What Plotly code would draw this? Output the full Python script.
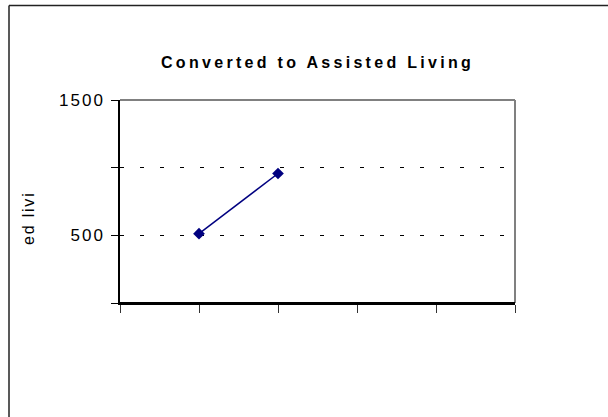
import plotly.graph_objects as go

# ---- data ----
chart_title = "Converted to Assisted Living"
y_axis_title = "ed livi"
category_positions = [1, 2]
values = [512, 957]
x_tick_positions = [0, 1, 2, 3, 4, 5]
y_tick_values = [0, 500, 1000, 1500]
y_tick_labels = ["", "500", "", "1500"]

W, H = 608, 417
L, R, T, B = 120, 515, 100, 303  # plot area in pixels


def px_x(px):
    return (px - L) / (R - L)


def px_y(py):
    return (B - py) / (B - T)


FONT = "Liberation Sans, Arial, sans-serif"

fig = go.Figure()
fig.add_trace(go.Scatter(
    x=category_positions, y=values, mode="lines+markers",
    line=dict(color="#000080", width=1.5),
    marker=dict(symbol="diamond", size=9, color="#000080"),
    showlegend=False, hoverinfo="skip",
))

fig.update_layout(
    width=W, height=H,
    margin=dict(l=L, r=W - R, t=T, b=H - B),
    paper_bgcolor="white", plot_bgcolor="white",
    font=dict(family=FONT, color="black", size=16),
    xaxis=dict(range=[0, 5], tickvals=x_tick_positions, showticklabels=False,
               ticks="outside", ticklen=8, tickcolor="#333", tickwidth=1,
               showline=True, linecolor="black", linewidth=2,
               showgrid=False, zeroline=False, fixedrange=True),
    yaxis=dict(range=[0, 1500], tickvals=y_tick_values,
               ticktext=['<span style="letter-spacing:2px">%s</span>' % t if t else "" for t in y_tick_labels],
               ticks="outside", ticklen=7, tickcolor="black", tickwidth=1,
               ticklabelstandoff=3,
               tickfont=dict(size=17, family=FONT, color="black"),
               showline=True, linecolor="black", linewidth=1.5,
               showgrid=True, gridcolor="black", gridwidth=1, griddash="4px,16px",
               zeroline=False, fixedrange=True),
    shapes=[
        # gray top and right borders of plot area
        dict(type="line", xref="paper", yref="paper", x0=0, x1=1, y0=1, y1=1,
             line=dict(color="#808080", width=2), layer="above"),
        dict(type="line", xref="paper", yref="paper", x0=1, x1=1, y0=0, y1=1,
             line=dict(color="#808080", width=2), layer="above"),
        # bottom axis line (reinforced)
        dict(type="line", xref="paper", yref="paper", x0=0, x1=1, y0=0, y1=0,
             line=dict(color="black", width=2), layer="above"),
        # outer chart border (top and left)
        dict(type="line", xref="paper", yref="paper",
             x0=px_x(9), x1=px_x(W + 5), y0=px_y(5.5), y1=px_y(5.5),
             line=dict(color="#222", width=1.5), layer="above"),
        dict(type="line", xref="paper", yref="paper",
             x0=px_x(9), x1=px_x(9), y0=px_y(5.5), y1=px_y(H + 5),
             line=dict(color="#222", width=1.5), layer="above"),
    ],
    annotations=[
        dict(text='<span style="letter-spacing:3.3px"><b>%s</b></span>' % chart_title,
             xref="paper", yref="paper", x=px_x(317), y=px_y(62),
             xanchor="center", yanchor="middle", showarrow=False,
             font=dict(size=16, family=FONT, color="black")),
        dict(text='<span style="letter-spacing:1.8px">%s</span>' % y_axis_title,
             xref="paper", yref="paper", x=px_x(28), y=px_y(218),
             xanchor="center", yanchor="middle", showarrow=False, textangle=-90,
             font=dict(size=16, family=FONT, color="black")),
    ],
)

fig.write_html(
    "out.html",
    config={"displayModeBar": False},
    post_script="document.body.style.margin='0';document.body.style.overflow='hidden';",
)
